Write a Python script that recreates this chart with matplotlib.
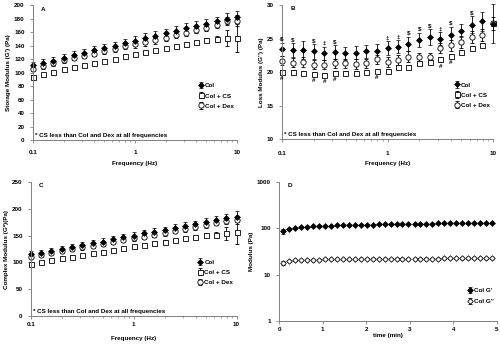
import matplotlib
matplotlib.use("Agg")
import matplotlib.pyplot as plt
from matplotlib.ticker import FixedLocator, NullFormatter, LogLocator
import numpy as np

matplotlib.rcParams.update({
    "font.family": "Liberation Sans",
    "font.weight": "bold",
    "font.size": 4.5,
    "axes.labelweight": "bold",
    "axes.linewidth": 0.7,
    "axes.edgecolor": "#808080",
    "xtick.color": "#808080", "ytick.color": "#808080",
    "xtick.labelcolor": "black", "ytick.labelcolor": "black",
    "xtick.major.size": 2.5, "ytick.major.size": 2.5,
    "xtick.minor.size": 1.5, "xtick.major.width": 0.6,
    "ytick.major.width": 0.6, "xtick.minor.width": 0.5,
})

# ── Datos ─────────────────────────────────────────────────────────────────────
freq = [0.1, 0.126, 0.158, 0.2, 0.251, 0.316, 0.398, 0.501, 0.631, 0.794, 1.0,
        1.26, 1.58, 2.0, 2.51, 3.16, 3.98, 5.01, 6.31, 7.94, 10.0]

# A: storage modulus
col_g1 = [111, 114, 117, 122, 126, 129, 133, 136, 140, 144, 147, 151, 154, 158, 162, 166, 169, 172, 176, 180, 182]
col_g1_err = [5, 6, 6, 6, 6, 6, 6, 6, 6, 6, 7, 7, 7, 7, 7, 7, 7, 7, 7, 8, 10]
cs_g1 = [94, 98, 101, 105, 108, 111, 114, 117, 120, 124, 127, 130, 133, 136, 139, 142, 145, 148, 150, 151, 152]
cs_g1_err = [2, 2, 2, 2, 2, 2, 2, 2, 2, 2, 2, 2, 2, 2, 2, 2, 2, 3, 5, 12, 21]
dex_g1 = [106, 110, 114, 118, 122, 125, 128, 132, 135, 139, 142, 145, 148, 152, 156, 159, 163, 166, 171, 176, 177]
dex_g1_err = [4, 4, 4, 4, 4, 4, 4, 4, 4, 4, 5, 5, 5, 5, 5, 5, 5, 5, 5, 6, 8]

# B: loss modulus
col_g2 = [23.4, 23.3, 23.3, 23.1, 22.8, 23.0, 22.8, 22.9, 23.1, 23.2, 23.6, 23.8, 24.2, 24.8, 25.2, 25.0, 25.6, 26.2, 27.1, 27.6, 27.2]
col_g2_err = [1.0, 1.0, 1.3, 1.1, 1.0, 1.0, 1.0, 1.0, 1.0, 1.0, 1.0, 1.0, 1.1, 1.1, 1.2, 1.0, 1.2, 1.0, 1.3, 1.4, 2.9]
cs_g2 = [20.0, 20.0, 19.9, 19.7, 19.6, 19.8, 19.9, 19.9, 20.0, 20.1, 20.2, 20.8, 20.8, 21.4, 21.5, 21.9, 22.4, 23.0, 23.6, 24.1, 27.3]
cs_g2_err = [0.3, 0.3, 0.3, 0.3, 0.3, 0.3, 0.3, 0.3, 0.3, 0.3, 0.3, 0.3, 0.3, 0.3, 0.3, 0.4, 0.3, 0.3, 0.3, 0.3, 0.3]
dex_g2 = [21.7, 21.4, 21.5, 21.1, 21.1, 21.3, 21.3, 21.2, 21.3, 21.9, 21.5, 21.8, 22.3, 22.2, 22.2, 23.6, 24.0, 24.5, 25.2, 25.6, 27.3]
dex_g2_err = [0.7, 0.7, 0.8, 0.7, 0.7, 0.7, 0.7, 0.7, 0.7, 0.7, 0.7, 0.7, 0.8, 0.7, 0.7, 0.8, 0.8, 0.9, 0.9, 0.9, 1.0]
sig_col = ["$", "$", "", "$", "‡", "$", "", "", "", "", "‡", "‡", "$", "$", "$", "‡", "$", "", "$", "", ""]
sig_cs = ["#", "", "", "#", "#", "#", "", "", "", "#", "", "", "", "", "", "#", "#", "", "", "", ""]

# C: complex modulus
col_gs = [115, 118, 121, 125, 129, 132, 136, 139, 143, 147, 150, 154, 157, 160, 164, 168, 171, 175, 179, 183, 185]
col_gs_err = [6, 6, 6, 6, 6, 6, 6, 6, 6, 6, 7, 7, 7, 7, 7, 7, 7, 7, 7, 8, 10]
cs_gs = [98, 101, 104, 108, 111, 114, 117, 120, 124, 127, 130, 133, 136, 139, 142, 145, 148, 151, 152, 154, 156]
cs_gs_err = [2, 2, 2, 2, 2, 2, 2, 2, 2, 2, 2, 2, 2, 2, 2, 2, 2, 3, 5, 12, 21]
dex_gs = [110, 114, 117, 121, 125, 128, 131, 135, 138, 142, 145, 148, 152, 155, 159, 162, 166, 169, 174, 178, 179]
dex_gs_err = [4, 4, 4, 4, 4, 4, 4, 4, 4, 4, 5, 5, 5, 5, 5, 5, 5, 5, 5, 6, 8]

# D: time sweep
time_min = [0.10, 0.24, 0.37, 0.51, 0.65, 0.78, 0.92, 1.06, 1.19, 1.33, 1.47, 1.60,
            1.74, 1.88, 2.01, 2.15, 2.29, 2.42, 2.56, 2.70, 2.83, 2.97, 3.11, 3.24,
            3.38, 3.52, 3.65, 3.79, 3.93, 4.06, 4.20, 4.34, 4.47, 4.61, 4.75, 4.88]
gp_t = [86, 96, 101, 105, 108, 110, 112, 113, 114, 115, 116, 117, 118, 119, 120, 120,
        121, 122, 122, 123, 124, 124, 125, 125, 126, 126, 127, 127, 128, 128, 129, 129,
        130, 130, 131, 131]
gp_t_err = [12, 4, 3, 3, 3, 3, 3, 3, 3, 3, 3, 3, 3, 3, 3, 3, 3, 3, 3, 3, 3, 3, 3, 3,
            3, 3, 3, 3, 3, 3, 3, 3, 3, 3, 3, 3]
gpp_t = [17.8, 19.6, 20.3, 20.7, 21.0, 21.1, 21.2, 21.3, 21.4, 21.5, 21.6, 21.6, 21.7,
         21.7, 21.8, 21.8, 21.9, 21.9, 22.0, 22.0, 22.0, 22.1, 22.1, 22.1, 22.2, 22.2,
         22.2, 22.3, 22.3, 22.3, 22.4, 22.4, 22.4, 22.5, 22.5, 22.5]
gpp_t_err = [1.8, 0.6, 0.5, 0.5, 0.5, 0.5, 0.5, 0.5, 0.5, 0.5, 0.5, 0.5, 0.5, 0.5, 0.5,
             0.5, 0.5, 0.5, 0.5, 0.5, 0.5, 0.5, 0.5, 0.5, 0.5, 0.5, 0.5, 0.5, 0.5, 0.5,
             0.5, 0.5, 0.5, 0.5, 0.5, 0.5]

LABELS = ["Col", "Col + CS", "Col + Dex"]
NOTE = "* CS less than Col and Dex at all frequencies"

# ── Figura ────────────────────────────────────────────────────────────────────
fig = plt.figure(figsize=(5.0, 3.44), dpi=100)
axA = fig.add_axes([0.066, 0.593, 0.408, 0.392])
axB = fig.add_axes([0.564, 0.596, 0.422, 0.389])
axC = fig.add_axes([0.062, 0.081, 0.411, 0.390])
axD = fig.add_axes([0.558, 0.067, 0.436, 0.404])

EB = dict(ecolor="black", elinewidth=0.6, capsize=1.3, capthick=0.6, linestyle="none")


def eb(ax, x, y, e, **kw):
    cont = ax.errorbar(x, y, yerr=e, **kw, **EB)
    for art in cont.get_children():
        art.set_clip_on(False)
    return cont


def freq_panel(ax, col, col_e, cs, cs_e, dex, dex_e, letter, ylabel, lab_pad, xl_pad):
    eb(ax, freq, cs, cs_e, marker="s", ms=3.6, mfc="white", mec="black",
       mew=0.6, label=LABELS[1])
    eb(ax, freq, dex, dex_e, marker="o", ms=3.8, mfc="white", mec="black",
       mew=0.6, label=LABELS[2])
    eb(ax, freq, col, col_e, marker="D", ms=3.0, mfc="black", mec="black",
       mew=0.5, label=LABELS[0])
    ax.set_xscale("log")
    ax.set_xlim(0.1, 10)
    ax.xaxis.set_major_locator(FixedLocator([0.1, 1, 10]))
    ax.xaxis.set_minor_locator(LogLocator(base=10, subs=np.arange(2, 10)))
    ax.xaxis.set_minor_formatter(NullFormatter())
    ax.set_xticklabels(["0.1", "1", "10"])
    ax.tick_params(axis="x", which="both", pad=lab_pad)
    ax.set_xlabel("Frequency (Hz)", labelpad=xl_pad)
    ax.set_ylabel(ylabel, labelpad=2)
    for s in ["top", "right"]:
        ax.spines[s].set_visible(False)
    ax.text(0.04, 0.99, letter, transform=ax.transAxes, ha="left", va="top")
    ax.text(0.01, 0.015, NOTE, transform=ax.transAxes, ha="left", va="bottom")
    h, l = ax.get_legend_handles_labels()
    order = [2, 0, 1]
    ax.legend([h[i] for i in order], [l[i] for i in order], loc="lower right",
              bbox_to_anchor=(1.0, 0.21), frameon=False, handlelength=0.8,
              handletextpad=0.3, labelspacing=0.75, borderpad=0)


freq_panel(axA, col_g1, col_g1_err, cs_g1, cs_g1_err, dex_g1, dex_g1_err,
           "A", "Storage Modulus (G') (Pa)", 5, 4)
axA.set_ylim(0, 200)
axA.set_yticks(range(0, 201, 20))

freq_panel(axB, col_g2, col_g2_err, cs_g2, cs_g2_err, dex_g2, dex_g2_err,
           "B", "Loss Modulus (G'') (Pa)", 6, 4)
axB.set_ylim(10, 30)
axB.set_yticks(range(10, 31, 5))
for x, y, e, s in zip(freq, col_g2, col_g2_err, sig_col):
    if s:
        axB.annotate(s, xy=(x, y + e), xytext=(0, 0.5), textcoords="offset points",
                     ha="center", va="bottom", fontsize=4.5)
for x, y, e, s in zip(freq, cs_g2, cs_g2_err, sig_cs):
    if s:
        axB.annotate(s, xy=(x, y - e), xytext=(0, -1.5), textcoords="offset points",
                     ha="center", va="top", fontsize=4.5)

freq_panel(axC, col_gs, col_gs_err, cs_gs, cs_gs_err, dex_gs, dex_gs_err,
           "C", "Complex Modulus (G*)(Pa)", 2, 6)
axC.set_ylim(0, 250)
axC.set_yticks(range(0, 251, 50))

# D
eb(axD, time_min, gp_t, gp_t_err, marker="D", ms=3.0, mfc="black",
   mec="black", mew=0.5, label="Col G'")
eb(axD, time_min, gpp_t, gpp_t_err, marker="D", ms=2.8, mfc="white",
   mec="black", mew=0.6, label="Col G''")
axD.set_yscale("log")
axD.set_ylim(1, 1000)
axD.set_yticks([1, 10, 100, 1000])
axD.set_yticklabels(["1", "10", "100", "1000"])
axD.yaxis.set_minor_locator(FixedLocator([]))
axD.set_xlim(0, 5)
axD.set_xticks(range(0, 6))
axD.tick_params(axis="x", pad=1.5)
axD.set_xlabel("time (min)", labelpad=1)
axD.set_ylabel("Modulus (Pa)", labelpad=2)
for s in ["top", "right"]:
    axD.spines[s].set_visible(False)
axD.text(0.04, 0.99, "D", transform=axD.transAxes, ha="left", va="top")
axD.legend(loc="lower right", bbox_to_anchor=(1.0, 0.1), frameon=False,
           handlelength=0.8, handletextpad=0.3, labelspacing=0.9, borderpad=0)

plt.savefig("out.png", dpi=100)
plt.close()
